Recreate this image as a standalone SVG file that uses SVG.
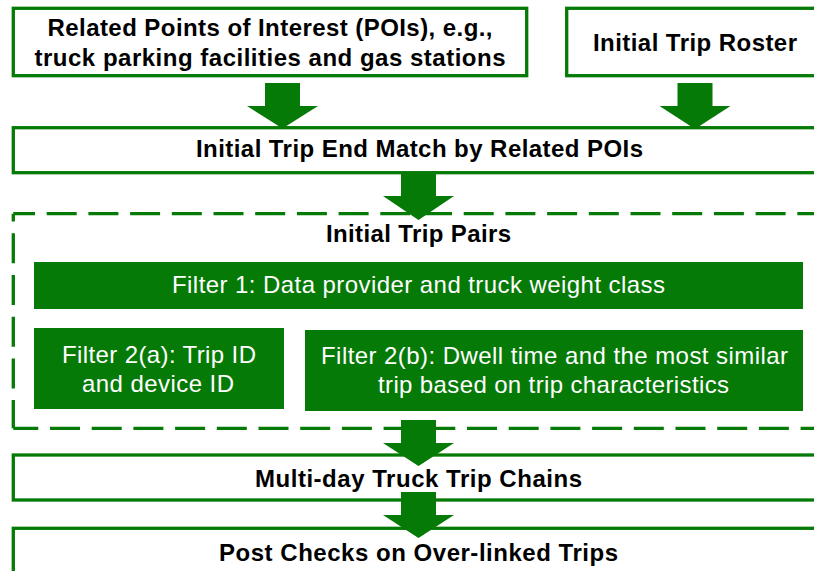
<svg xmlns="http://www.w3.org/2000/svg" width="814" height="571" viewBox="0 0 814 571">
<style>
.box{fill:#fff;stroke:#067A06;stroke-width:3.3}
.fbox{fill:#067A06}
.dash{fill:none;stroke:#067A06;stroke-width:3.3;stroke-dasharray:30 11.7}
.arr{fill:#067A06}
.bt{font-family:"Liberation Sans",Arial,sans-serif;font-size:24px;font-weight:bold;fill:#000;text-anchor:middle}
.wt{font-family:"Liberation Sans",Arial,sans-serif;font-size:24px;fill:#fff;text-anchor:middle}
</style>
<rect width="814" height="571" fill="#fff"/>
<g id="pois">
<rect class="box" x="13.3" y="8.3" width="513.4" height="67.4"/>
<text class="bt" x="270" y="36" textLength="445" lengthAdjust="spacing">Related Points of Interest (POIs), e.g.,</text>
<text class="bt" x="270" y="66" textLength="471" lengthAdjust="spacing">truck parking facilities and gas stations</text>
</g>
<g id="roster">
<rect class="box" x="566.7" y="8.3" width="270" height="67.4"/>
<text class="bt" x="695" y="51" textLength="204" lengthAdjust="spacing">Initial Trip Roster</text>
</g>
<g id="match">
<rect class="box" x="13.3" y="127.7" width="820" height="45"/>
<text class="bt" x="419.5" y="157" textLength="447" lengthAdjust="spacing">Initial Trip End Match by Related POIs</text>
</g>
<g id="pairs">
<line class="dash" x1="13.3" y1="213.7" x2="840" y2="213.7" stroke-dashoffset="8.3"/>
<line class="dash" x1="13.3" y1="428.3" x2="840" y2="428.3" stroke-dashoffset="5"/>
<line class="dash" x1="13.3" y1="213.7" x2="13.3" y2="428.3" stroke-dashoffset="22.1"/>
<text class="bt" x="418.5" y="242" textLength="185" lengthAdjust="spacing">Initial Trip Pairs</text>
</g>
<g id="filter1">
<rect class="fbox" x="34" y="262" width="769" height="47"/>
<text class="wt" x="418.5" y="293" textLength="493" lengthAdjust="spacing">Filter 1: Data provider and truck weight class</text>
</g>
<g id="filter2a">
<rect class="fbox" x="34" y="328" width="250" height="81"/>
<text class="wt" x="159" y="363" textLength="194" lengthAdjust="spacing">Filter 2(a): Trip ID</text>
<text class="wt" x="158" y="392" textLength="152" lengthAdjust="spacing">and device ID</text>
</g>
<g id="filter2b">
<rect class="fbox" x="305" y="330" width="498" height="81"/>
<text class="wt" x="554.5" y="364" textLength="467" lengthAdjust="spacing">Filter 2(b): Dwell time and the most similar</text>
<text class="wt" x="553.5" y="393" textLength="351" lengthAdjust="spacing">trip based on trip characteristics</text>
</g>
<g id="chains">
<rect class="box" x="13.3" y="455" width="820" height="45"/>
<text class="bt" x="418.5" y="487" textLength="327" lengthAdjust="spacing">Multi-day Truck Trip Chains</text>
</g>
<g id="postchecks">
<rect class="box" x="13.3" y="528.3" width="820" height="60"/>
<text class="bt" x="418.5" y="561" textLength="399" lengthAdjust="spacing">Post Checks on Over-linked Trips</text>
</g>
<g id="connectors">
<polygon class="arr" points="265,83 300,83 300,106 318,106 282.5,128.5 247,106 265,106"/>
<polygon class="arr" points="677.5,83 712.5,83 712.5,106 730.5,106 695,129 659.5,106 677.5,106"/>
<polygon class="arr" points="401,173 436,173 436,196 454,196 418.5,220 383,196 401,196"/>
<polygon class="arr" points="401,420 436,420 436,443 454,443 418.5,466 383,443 401,443"/>
<polygon class="arr" points="401,492 436,492 436,515 454,515 418.5,538 383,515 401,515"/>
</g>
</svg>
